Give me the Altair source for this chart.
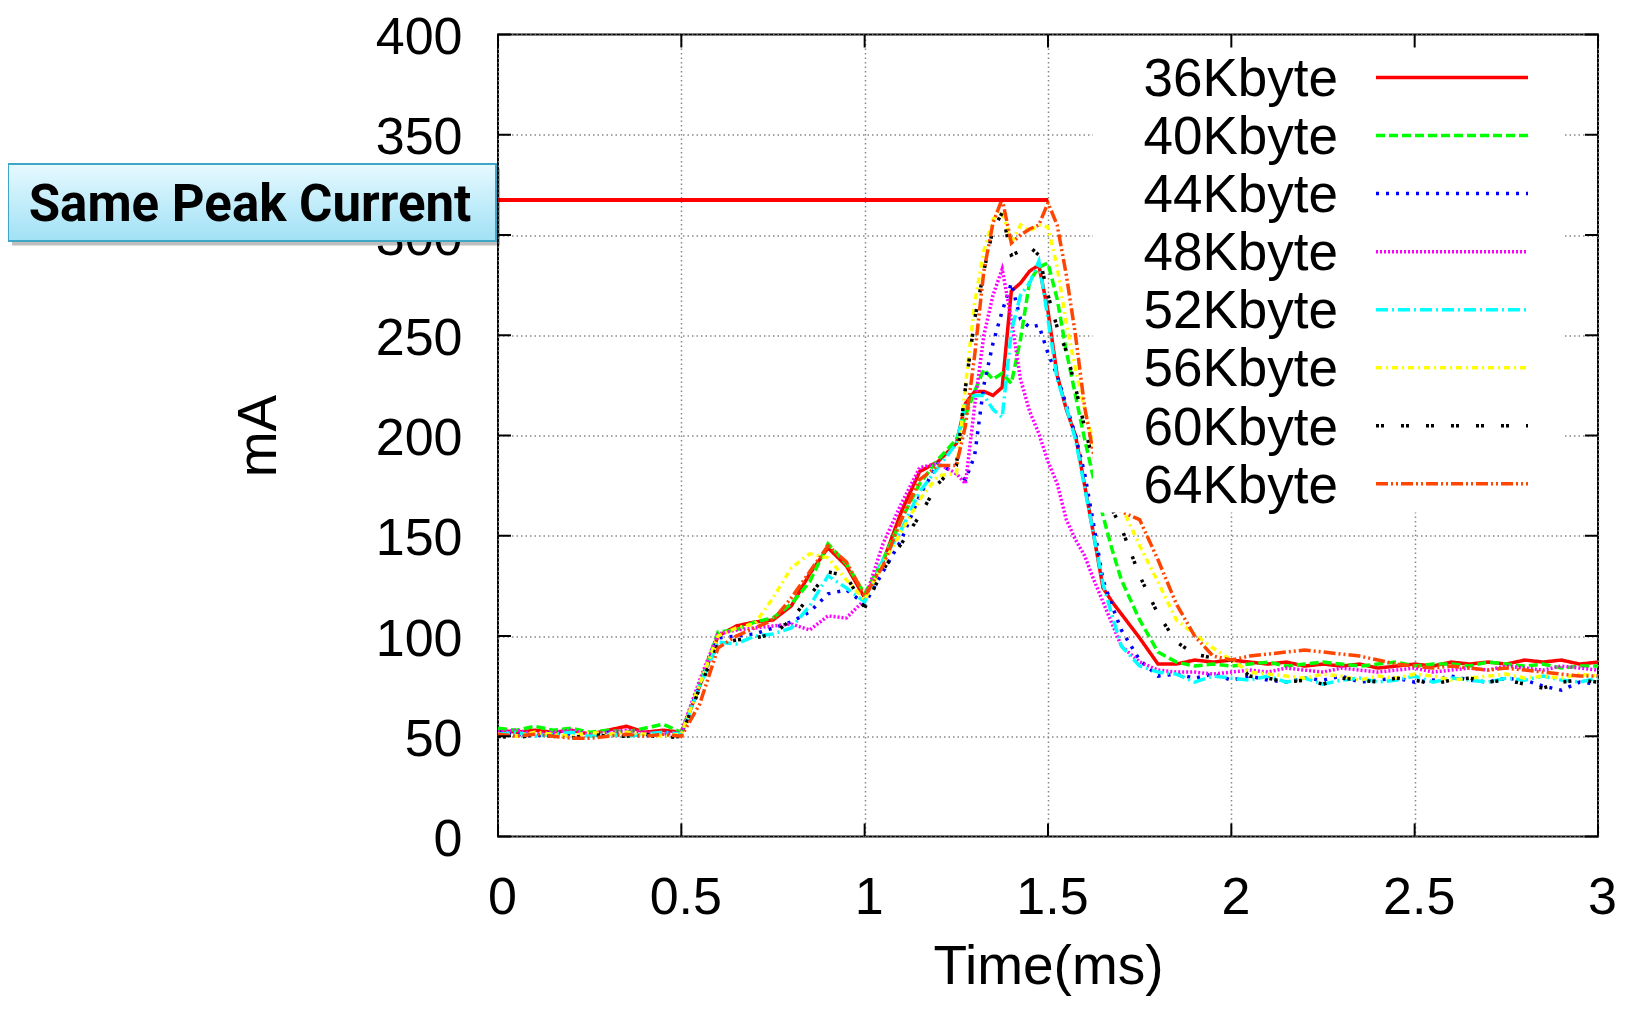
import altair as alt
import pandas as pd

# ---------------- data ----------------
times = [0.0, 0.05, 0.1, 0.15, 0.2, 0.25, 0.3, 0.35, 0.4, 0.45, 0.5,
         0.55, 0.6, 0.65, 0.7, 0.75, 0.8, 0.85, 0.9, 0.95, 1.0, 1.05, 1.1, 1.15, 1.2, 1.25,
         1.275, 1.3, 1.325, 1.35, 1.375, 1.4, 1.425, 1.45, 1.475, 1.5, 1.525, 1.55, 1.575,
         1.6, 1.625, 1.65, 1.675, 1.7,
         1.75, 1.8, 1.85, 1.9, 1.95, 2.0,
         2.05, 2.1, 2.15, 2.2, 2.25, 2.3, 2.35, 2.4, 2.45, 2.5, 2.55, 2.6, 2.65, 2.7, 2.75,
         2.8, 2.85, 2.9, 2.95, 3.0]

series_names = ["36Kbyte", "40Kbyte", "44Kbyte", "48Kbyte",
                "52Kbyte", "56Kbyte", "60Kbyte", "64Kbyte"]

mA_36 = [53, 52, 53, 52, 53, 51, 53, 55, 52, 53, 52,
         75, 100, 105, 107, 108, 115, 131, 144, 135, 119, 137, 162, 182, 187, 196,
         216, 222, 222, 220, 224, 272, 276, 282, 285, 262, 230, 213, 200, 175, 150, 124, 117, 111,
         99, 86, 86, 88, 87, 88,
         87, 86, 87, 85, 86, 85, 86, 84, 85, 86, 85, 87, 86, 87, 86, 88, 87, 88, 86, 87]
mA_40 = [54, 53, 55, 53, 54, 52, 53, 52, 54, 56, 52,
         76, 102, 103, 107, 109, 116, 127, 146, 136, 121, 138, 158, 176, 188, 198,
         210, 222, 233, 228, 231, 226, 248, 277, 284, 286, 268, 242, 220, 198, 178, 160, 143, 128,
         108, 92, 87, 85, 86, 85,
         86, 87, 85, 86, 87, 86, 85, 86, 87, 85, 86, 86, 85, 87, 86, 85, 86, 84, 85, 85]
mA_44 = [52, 51, 50, 52, 51, 50, 52, 51, 50, 52, 51,
         76, 99, 100, 101, 104, 107, 112, 121, 123, 116, 132, 148, 170, 186, 181,
         178, 190, 225, 246, 262, 276, 258, 254, 255, 241, 230, 215, 200, 181, 155, 128, 115, 103,
         88, 80, 81, 79, 81, 78,
         80, 78, 77, 79, 78, 80, 77, 78, 79, 77, 78, 80, 78, 77, 79, 78, 75, 73, 77, 76]
mA_48 = [52, 53, 51, 52, 53, 51, 52, 53, 52, 51, 52,
         78, 101, 103, 104, 105, 106, 103, 110, 109, 118, 146, 166, 184, 186, 181,
         176, 215, 250, 270, 283, 258, 228, 212, 201, 187, 176, 158, 148, 140, 128, 117, 106, 95,
         87, 83, 82, 82, 81, 82,
         83, 82, 84, 83, 82, 84, 83, 82, 83, 84, 82, 83, 84, 83, 85, 84, 83, 85, 84, 83]
mA_52 = [51, 52, 50, 51, 52, 50, 51, 50, 51, 52, 51,
         75, 97, 96, 100, 101, 104, 115, 130, 124, 117, 138, 153, 172, 184, 196,
         216, 220, 220, 213, 209, 252, 270, 276, 287, 258, 228, 214, 198, 174, 150, 126, 110, 95,
         85, 82, 81, 77, 80, 79,
         78, 80, 77, 79, 76, 78, 79, 77, 78, 80, 77, 79, 78, 77, 79, 78, 80, 78, 77, 79]
mA_56 = [51, 50, 52, 51, 50, 52, 51, 52, 51, 50, 51,
         76, 100, 104, 106, 119, 134, 141, 139, 128, 118, 136, 152, 168, 180, 181,
         225, 266, 292, 308, 312, 296, 305, 302, 305, 304, 284, 256, 233, 213, 196, 181, 175, 165,
         145, 127, 108, 101, 94, 88,
         82, 81, 80, 79, 81, 80, 78, 80, 79, 81, 80, 78, 79, 80, 81, 79, 80, 79, 81, 80]
mA_60 = [50, 49, 51, 50, 49, 51, 50, 50, 51, 49, 50,
         74, 96, 98, 99, 101, 108, 120, 132, 130, 114, 133, 146, 160, 176, 185,
         224, 258, 282, 303, 311, 290, 292, 294, 290, 270, 254, 242, 224, 204, 186, 176, 163, 154,
         130, 111, 97, 91, 89, 88,
         80, 79, 77, 78, 76, 79, 78, 77, 79, 78, 76, 78, 79, 77, 78, 76, 74, 77, 78, 77]
mA_64 = [51, 50, 51, 50, 49, 49, 50, 51, 50, 51, 50,
         66, 94, 100, 104, 108, 119, 132, 145, 137, 120, 135, 158, 178, 185, 185,
         205, 240, 282, 306, 318, 296, 300, 303, 305, 316, 305, 280, 250, 214, 190, 176, 168, 162,
         158, 138, 116, 100, 90, 88,
         90, 91, 92, 93, 92, 91, 90, 88, 86, 85, 84, 85, 84, 83, 84, 83, 82, 81, 80, 80]

series_values = [mA_36, mA_40, mA_44, mA_48, mA_52, mA_56, mA_60, mA_64]

x_ticks = [0, 0.5, 1, 1.5, 2, 2.5, 3]
y_ticks = [0, 50, 100, 150, 200, 250, 300, 350, 400]

peak_level = [317.5]
peak_span = [0, 1.5]
annotation_text = "Same Peak Current"

# ---------------- styles ----------------
colors = ["#ff0000", "#00ff00", "#0000ff", "#ff00ff",
          "#00ffff", "#ffff00", "#000000", "#ff4500"]
dashes = [[1, 0], [9, 4], [3, 7], [2, 2], [12, 4, 2, 4],
          [6, 4, 2, 4], [3, 2, 3, 17], [12, 3, 2, 3, 2, 3]]

W, H = 1100, 802
FONT = "Liberation Sans"

rows = []
for name, vals in zip(series_names, series_values):
    for t, v in zip(times, vals):
        rows.append({"t": t, "mA": v, "series": name})
df = pd.DataFrame(rows)

xscale = alt.Scale(domain=[0, 3], nice=False, zero=False)
yscale = alt.Scale(domain=[0, 400], nice=False)

xaxis = alt.Axis(values=x_ticks, format="~g", title="Time(ms)", domain=False, ticks=False,
                 grid=True, gridDash=[1.5, 3], gridColor="#888888", gridWidth=1.5,
                 labelFont=FONT, labelFontSize=52, labelColor="black", labelPadding=36,
                 labelOffset=4, labelFlush=False, labelOverlap=False,
                 titleFont=FONT, titleFontSize=55, titleFontWeight="normal", titleColor="black",
                 titleX=W / 2, titleY=147, titleBaseline="alphabetic", titleAlign="center",
                 zindex=0)
yaxis = alt.Axis(values=y_ticks, title="mA", domain=False, ticks=False,
                 grid=True, gridDash=[1.5, 3], gridColor="#888888", gridWidth=1.5,
                 labelFont=FONT, labelFontSize=52, labelColor="black", labelPadding=36,
                 labelOffset=3, labelFlush=False, labelOverlap=False,
                 titleFont=FONT, titleFontSize=55, titleFontWeight="normal", titleColor="black",
                 titleX=-240, titleY=H / 2, titleAngle=270, titleAlign="center",
                 titleBaseline="middle", zindex=0)

lines = alt.Chart(df).mark_line(strokeWidth=3.5).encode(
    x=alt.X("t:Q", scale=xscale, axis=xaxis),
    y=alt.Y("mA:Q", scale=yscale, axis=yaxis),
    color=alt.Color("series:N", scale=alt.Scale(domain=series_names, range=colors), legend=None),
    strokeDash=alt.StrokeDash("series:N", scale=alt.Scale(domain=series_names, range=dashes),
                              legend=None),
)

# white key background (hides grid)
one = pd.DataFrame({"a": [0]})
key_bg = alt.Chart(one).mark_rect(fill="white").encode(
    x=alt.value(595), x2=alt.value(1064), y=alt.value(2), y2=alt.value(478))

# inside ticks
ytk = pd.DataFrame({"v": y_ticks})
xtk = pd.DataFrame({"v": x_ticks})
tick_style = dict(color="black", strokeWidth=2)
ticks_left = alt.Chart(ytk).mark_rule(**tick_style).encode(
    y=alt.Y("v:Q", scale=yscale, axis=yaxis), x=alt.value(0), x2=alt.value(13))
ticks_right = alt.Chart(ytk).mark_rule(**tick_style).encode(
    y=alt.Y("v:Q", scale=yscale, axis=yaxis), x=alt.value(W - 13), x2=alt.value(W))
ticks_bottom = alt.Chart(xtk).mark_rule(**tick_style).encode(
    x=alt.X("v:Q", scale=xscale, axis=xaxis), y=alt.value(H), y2=alt.value(H - 13))
ticks_top = alt.Chart(xtk).mark_rule(**tick_style).encode(
    x=alt.X("v:Q", scale=xscale, axis=xaxis), y=alt.value(0), y2=alt.value(13))

peak_df = pd.DataFrame({"x0": [peak_span[0]], "x1": [peak_span[1]], "y": peak_level})
peak_rule = alt.Chart(peak_df).mark_rule(color="#ff0000", strokeWidth=4).encode(
    x=alt.X("x0:Q", scale=xscale, axis=xaxis), x2="x1:Q",
    y=alt.Y("y:Q", scale=yscale, axis=yaxis))

box_shadow = alt.Chart(one).mark_rect(fill="#000000", opacity=0.25).encode(
    x=alt.value(-486), x2=alt.value(2), y=alt.value(134), y2=alt.value(211))
box = alt.Chart(one).mark_rect(
    fill=alt.LinearGradient(gradient="linear",
                            stops=[alt.GradientStop(color="#e6f9fe", offset=0),
                                   alt.GradientStop(color="#a0e1f6", offset=1)],
                            x1=0, x2=0, y1=0, y2=1),
    stroke="#3fa6c6", strokeWidth=2).encode(
    x=alt.value(-490), x2=alt.value(-2), y=alt.value(129.5), y2=alt.value(206.5))
box_text = alt.Chart(one).mark_text(font="Roboto", fontWeight="bold", fontSize=51,
                                    align="center", baseline="alphabetic", color="black").encode(
    x=alt.value(-248), y=alt.value(186), text=alt.value(annotation_text))

# key (labels left of samples, as in the original)
key_layers = []
for i, (name, col, dsh) in enumerate(zip(series_names, colors, dashes)):
    ly = 43 + 58.05 * i
    key_layers.append(alt.Chart(one).mark_text(font=FONT, fontSize=53, align="right",
                                               baseline="alphabetic", color="black").encode(
        x=alt.value(840), y=alt.value(ly + 18.7), text=alt.value(name)))
    key_layers.append(alt.Chart(one).mark_rule(color=col, strokeWidth=3.5, strokeDash=dsh).encode(
        x=alt.value(878), x2=alt.value(1030), y=alt.value(ly)))

chart = alt.layer(
    lines, key_bg, ticks_left, ticks_right, ticks_bottom, ticks_top,
    peak_rule, box_shadow, box, box_text, *key_layers
).properties(
    width=W, height=H,
    padding={"left": 490, "top": 26.5, "right": 19, "bottom": 163},
    autosize=alt.AutoSizeParams(type="none"),
    background="white",
).configure_view(stroke="black", strokeWidth=2)

chart.save("out.html", embed_options={"renderer": "svg", "actions": False})
